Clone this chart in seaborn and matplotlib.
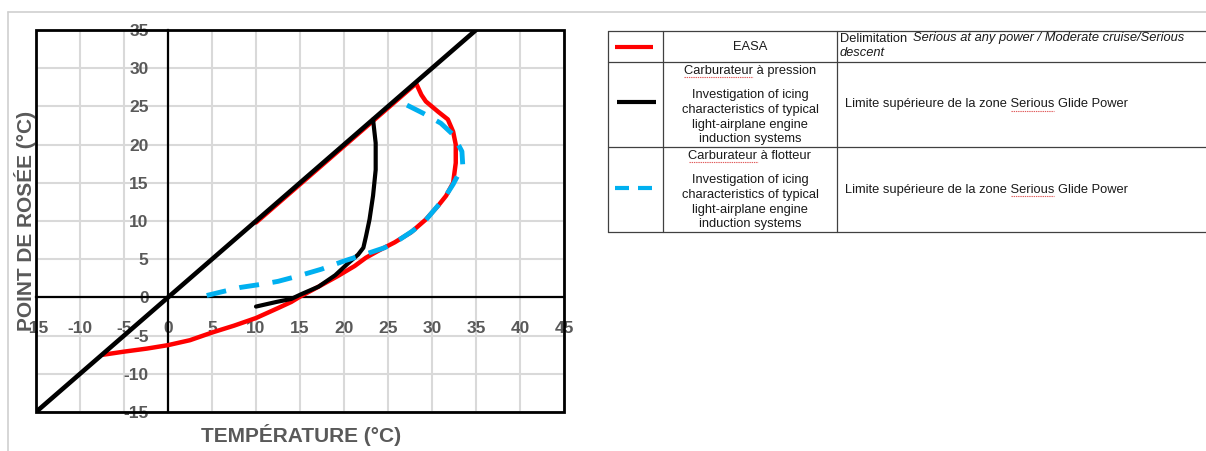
import matplotlib
matplotlib.use("Agg")
import matplotlib.pyplot as plt
from matplotlib.lines import Line2D
from matplotlib.patches import Rectangle
import pandas as pd
import seaborn as sns

# ---------------- data ----------------
easa_temp = [-7.35, -5.0, -2.4, 0.0, 2.5, 5.0, 7.5, 10.0, 12.5, 14.0, 15.0, 17.1, 19.3, 21.2,
             22.5, 23.9, 25.75, 27.6, 29.3, 30.7, 31.6, 32.4, 32.7, 32.7, 32.4, 31.8, 30.7,
             29.3, 28.8, 28.2, 20.0, 10.0]
easa_dew = [-7.5, -7.1, -6.7, -6.25, -5.6, -4.6, -3.7, -2.7, -1.4, -0.6, 0.1, 1.4, 2.8, 4.1,
            5.2, 6.1, 7.2, 8.5, 10.2, 12.0, 13.3, 15.0, 17.6, 20.0, 21.7, 23.3, 24.3,
            25.65, 26.5, 28.0, 19.8, 9.8]

pression_temp = [10.0, 12.3, 14.0, 15.2, 17.1, 19.0, 20.5, 21.6, 22.2, 22.5, 22.9, 23.3, 23.6, 23.6, 23.3]
pression_dew = [-1.2, -0.6, -0.2, 0.45, 1.4, 2.9, 4.5, 5.6, 6.5, 8.0, 10.2, 13.3, 16.7, 20.2, 23.3]

flotteur_temp = [4.4, 6.0, 8.2, 10.8, 12.5, 14.8, 17.45, 20.1, 22.4, 24.6, 26.1, 27.8, 29.2,
                 30.3, 31.4, 32.4, 33.5, 33.4, 32.4, 31.0, 29.0, 27.1]
flotteur_dew = [0.25, 0.7, 1.3, 1.75, 2.1, 2.8, 3.7, 4.8, 5.65, 6.5, 7.4, 8.7, 10.0,
                11.5, 13.0, 14.8, 17.2, 19.1, 21.3, 22.8, 24.1, 25.2]

saturation_temp = [-15, 35]
saturation_dew = [-15, 35]

x_ticks = [-15, -10, -5, 0, 5, 10, 15, 20, 25, 30, 35, 40, 45]
y_ticks = [-15, -10, -5, 0, 5, 10, 15, 20, 25, 30, 35]
x_label = "TEMPÉRATURE (°C)"
y_label = "POINT DE ROSÉE (°C)"

row1_source = "EASA"
row1_desc_plain = "Delimitation"
row1_desc_italic = "Serious at any power / Moderate cruise/Serious"
row1_desc_line2 = "descent"
row2_source = ["Carburateur à pression", "", "Investigation of icing",
               "characteristics of typical", "light-airplane engine", "induction systems"]
row3_source = ["Carburateur à flotteur", "", "Investigation of icing",
               "characteristics of typical", "light-airplane engine", "induction systems"]
row_desc = "Limite supérieure de la zone Serious Glide Power"

RED = "#FF0000"
BLUE = "#00B0F0"
GREY_TXT = "#595959"

# ---------------- figure ----------------
sns.set_theme(style="white")
plt.rcParams['font.family'] = ['Liberation Sans', 'DejaVu Sans']
plt.rcParams['axes.unicode_minus'] = False

W, H = 1206, 451
fig = plt.figure(figsize=(W / 100, H / 100), dpi=100)
fig.patch.set_facecolor("white")


def fx(x):
    return x / W


def fy(y):
    return 1 - y / H


ax = fig.add_axes([fx(36), fy(412), 528 / W, 382 / H])
ax.set_facecolor("white")

df_easa = pd.DataFrame({"t": easa_temp, "d": easa_dew})
df_pr = pd.DataFrame({"t": pression_temp, "d": pression_dew})
df_fl = pd.DataFrame({"t": flotteur_temp, "d": flotteur_dew})
df_sat = pd.DataFrame({"t": saturation_temp, "d": saturation_dew})

sns.lineplot(data=df_easa, x="t", y="d", sort=False, estimator=None, ax=ax,
             color=RED, linewidth=3.2, zorder=3)
sns.lineplot(data=df_pr, x="t", y="d", sort=False, estimator=None, ax=ax,
             color="black", linewidth=3.0, zorder=4)
sns.lineplot(data=df_fl, x="t", y="d", sort=False, estimator=None, ax=ax,
             color=BLUE, linewidth=3.5, linestyle=(0, (4.1, 2.8)), zorder=5)
sns.lineplot(data=df_sat, x="t", y="d", sort=False, estimator=None, ax=ax,
             color="black", linewidth=3.3, zorder=6)

ax.set_xlim(-15, 45)
ax.set_ylim(-15, 35)

for s in ["top", "right"]:
    ax.spines[s].set_visible(False)
for s in ["left", "bottom"]:
    ax.spines[s].set_position(("data", 0))
    ax.spines[s].set_color("black")
    ax.spines[s].set_linewidth(1.6)
    ax.spines[s].set_zorder(2.5)

ax.set_xticks(x_ticks)
ax.set_yticks(y_ticks)
ax.set_xticklabels([str(v) for v in x_ticks], fontweight="bold")
ax.set_yticklabels([str(v) for v in y_ticks], fontweight="bold")
ax.tick_params(axis="x", length=0, pad=17, labelsize=12.5, labelcolor=GREY_TXT)
ax.tick_params(axis="y", length=0, pad=14, labelsize=12.5, labelcolor=GREY_TXT)
for lbl in ax.get_xticklabels() + ax.get_yticklabels():
    lbl.set_fontweight("bold")
ax.set_xlabel("")
ax.set_ylabel("")

ax.grid(True, color="#D9D9D9", linewidth=1.5)
ax.set_axisbelow(True)

ax.add_patch(Rectangle((0, 0), 1, 1, transform=ax.transAxes, fill=False,
                       edgecolor="black", linewidth=2.0, clip_on=False, zorder=7))

fig.text(fx(301), fy(435), x_label, ha="center", va="center", fontsize=15,
         fontweight="bold", color=GREY_TXT)
fig.text(fx(25), fy(221), y_label, ha="center", va="center", rotation=90,
         fontsize=15, fontweight="bold", color=GREY_TXT)

# outer light frame
fig.add_artist(Line2D([fx(8), fx(1206)], [fy(12), fy(12)], transform=fig.transFigure,
                      color="#CFCFCF", linewidth=1.2))
fig.add_artist(Line2D([fx(8), fx(8)], [fy(12), fy(451)], transform=fig.transFigure,
                      color="#CFCFCF", linewidth=1.2))

# ---------------- table ----------------
TC = "#404040"
for yy in [31, 62, 147, 232]:
    fig.add_artist(Line2D([fx(608), fx(1206)], [fy(yy), fy(yy)], transform=fig.transFigure,
                          color=TC, linewidth=0.9))
for xx in [608, 663, 837]:
    fig.add_artist(Line2D([fx(xx), fx(xx)], [fy(31), fy(232)], transform=fig.transFigure,
                          color=TC, linewidth=0.9))

# legend keys
fig.add_artist(Line2D([fx(615), fx(653)], [fy(46.5), fy(46.5)], transform=fig.transFigure,
                      color=RED, linewidth=3.0, solid_capstyle="butt"))
fig.add_artist(Line2D([fx(617), fx(656)], [fy(102), fy(102)], transform=fig.transFigure,
                      color="black", linewidth=3.0, solid_capstyle="butt"))
for a, b in [(615, 629), (638, 652)]:
    fig.add_artist(Line2D([fx(a), fx(b)], [fy(187.7), fy(187.7)], transform=fig.transFigure,
                          color=BLUE, linewidth=3.0, solid_capstyle="butt"))

FS = 9.3
TXT = "#1A1A1A"
renderer = fig.canvas.get_renderer()


def width_px(s, style="normal"):
    t = fig.text(0, 0, s, fontsize=FS, style=style)
    w = t.get_window_extent(renderer=renderer).width
    t.remove()
    return w


def prefix_w(prefix):
    # width of prefix including the following space
    return width_px(prefix + " S") - width_px("S")


def squiggle(x0, x1, y):
    fig.add_artist(Line2D([fx(x0), fx(x1)], [fy(y), fy(y)], transform=fig.transFigure,
                          color="#E05A5A", linewidth=0.8, linestyle=(0, (1.2, 0.8))))


fig.text(fx(750), fy(46.5), row1_source, ha="center", va="center", fontsize=FS, color=TXT)

x0 = 840
fig.text(fx(x0), fy(38.5), row1_desc_plain, ha="left", va="center", fontsize=FS, color=TXT)
x_it = x0 + prefix_w(row1_desc_plain) + 2
fig.text(fx(x_it), fy(38.5), row1_desc_italic, ha="left", va="center", fontsize=FS,
         color=TXT, style="italic")
fig.text(fx(x0), fy(53.5), row1_desc_line2, ha="left", va="center", fontsize=FS,
         color=TXT, style="italic")

row_lines_y = [70.7, 83, 95, 110, 125, 139.3]
for lines, dy in [(row2_source, 0), (row3_source, 85)]:
    for ln, yy in zip(lines, row_lines_y):
        if ln:
            fig.text(fx(750), fy(yy + dy), ln, ha="center", va="center", fontsize=FS, color=TXT)
    full_w = width_px(lines[0])
    word = lines[0].split(" ")[0]
    left = 750 - full_w / 2
    squiggle(left, left + width_px(word), row_lines_y[0] + dy + 6)

prefix = row_desc.split(" Serious")[0]
for yy in [104.5, 189.5]:
    fig.text(fx(845), fy(yy), row_desc, ha="left", va="center", fontsize=FS, color=TXT)
    s0 = 845 + prefix_w(prefix)
    squiggle(s0, s0 + width_px("Serious"), yy + 6)

fig.savefig("out.png", dpi=100)
